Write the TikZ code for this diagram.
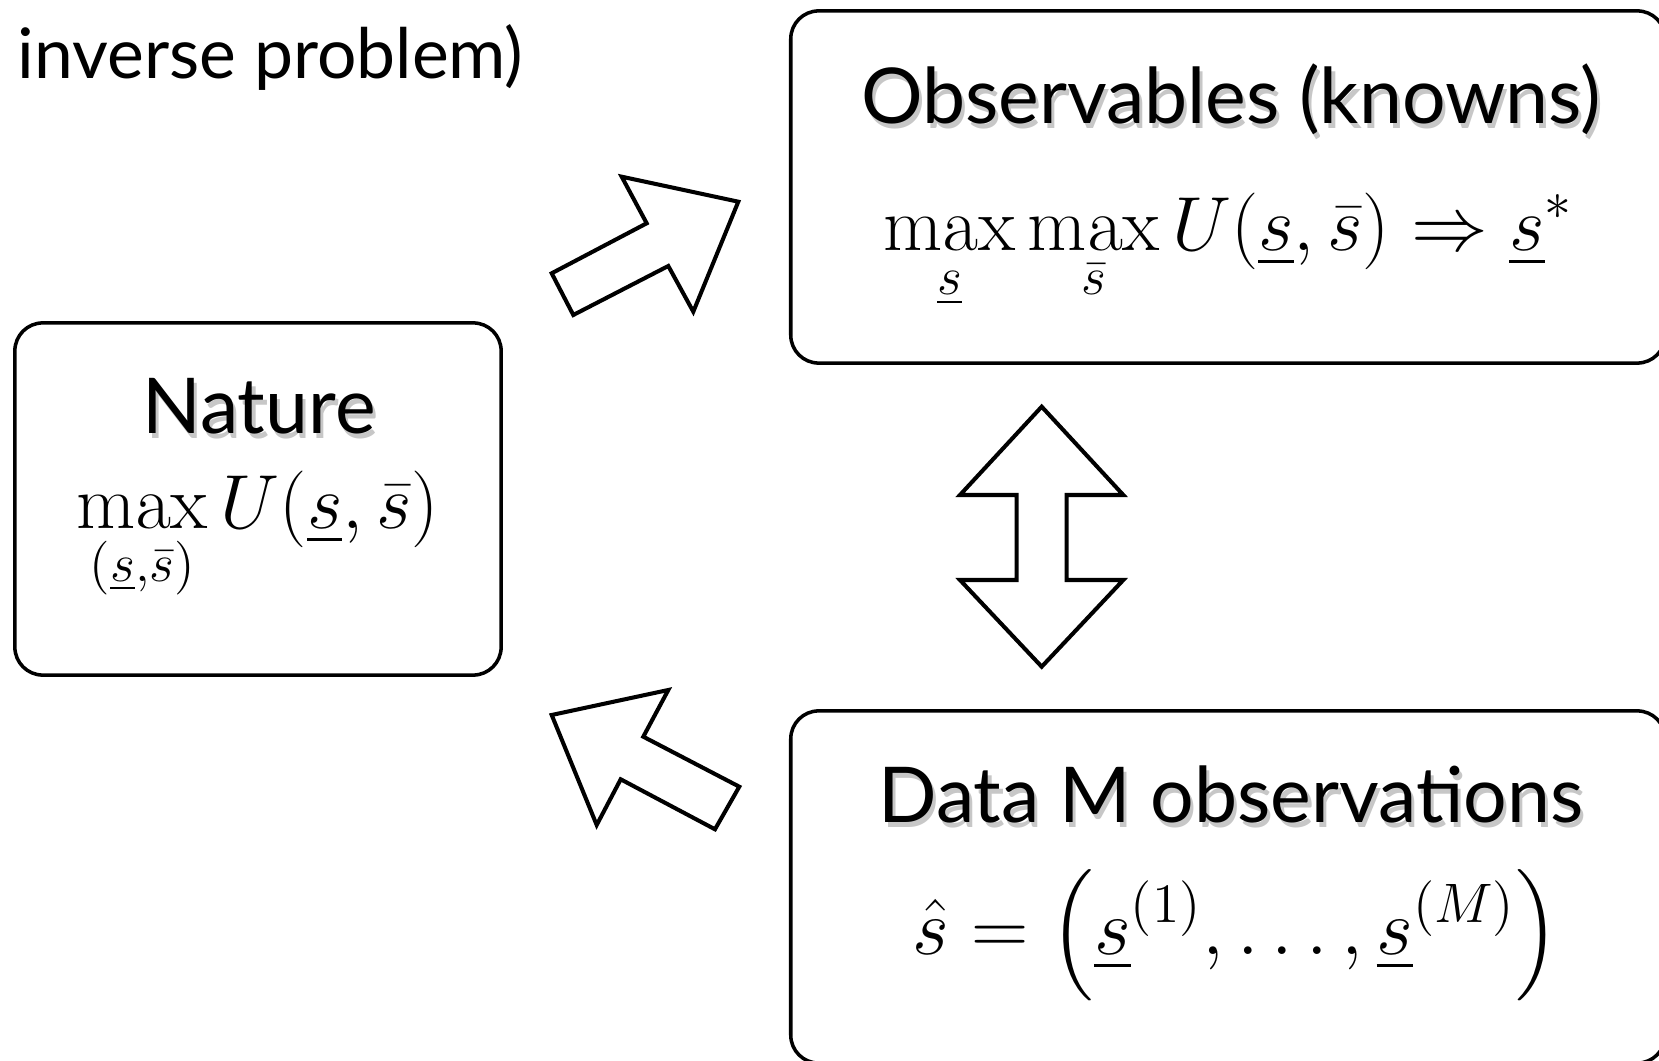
\RequirePackage{fix-cm}
\documentclass[tikz,border=0pt]{standalone}
\usepackage{amsmath}
\usepackage[no-math]{fontspec}
\newfontfamily\gill{Lato}
\usepackage{tikz}
\usetikzlibrary{positioning}

\newcommand\shtext[1]{\rlap{\kern0.9pt\raisebox{-1.3pt}{\color{black!22}#1}}#1}

\begin{document}
\begin{tikzpicture}[x=0.01cm,y=-0.01cm,
  box/.style={draw,line width=1pt,rounded corners=0.28cm,inner sep=0pt},
  title/.style={inner sep=0pt,font=\gill\fontsize{21.9}{26}\selectfont},
  formula/.style={inner sep=0pt,font=\fontsize{21.8}{26}\selectfont},
  blockarrow/.style={draw,line width=1.15pt,fill=white}]
\useasboundingbox (0,0) rectangle (1659,1061);
\clip (0,0) rectangle (1659,1061);

% boxes
\node[box,minimum width=4.86cm,minimum height=3.52cm] (nature) at (258,499) {};
\node[box,minimum width=8.74cm,minimum height=3.52cm] (obs) at (1228,187) {};
\node[box,minimum width=8.74cm,minimum height=3.52cm] (data) at (1228,887) {};

% texts
\node[inner sep=0pt,anchor=base west,font=\gill\fontsize{19.8}{23}\selectfont] (subtitle) at (17,79) {inverse problem)};
\node[title,anchor=base] (obstitle) at (1231,124) {\shtext{Observables (knowns)}};
\node[formula,anchor=base west] (obsformula) at (883,251)
  {$\displaystyle\max_{\underline{s}}\max_{\bar{s}} U\!\left(\underline{s},\bar{s}\right)\Rightarrow\underline{s}^{*}$};
\node[title,anchor=base] (naturetitle) at (259,434) {\shtext{Nature}};
\node[formula,anchor=base west] (natureformula) at (76,529)
  {$\displaystyle\max_{(\underline{s},\bar{s})} U\!\left(\underline{s},\bar{s}\right)$};
\node[title,anchor=base] (datatitle) at (1231,823) {\shtext{Data M observations}};
\node[formula,anchor=base west,font=\fontsize{22.6}{27}\selectfont] (dataformula) at (912,955)
  {$\displaystyle\hat{s}=\left(\underline{s}^{(1)},\ldots,\underline{s}^{(M)}\right)$};

% block arrows
\draw[blockarrow] (551.7,273.3) -- (573.3,315) -- (668.3,266) -- (693.3,311.7)
  -- (738.3,201.7) -- (621.7,176.7) -- (646.7,223.3) -- cycle;
\draw[blockarrow] (551.7,715) -- (668.3,690) -- (643.3,736.7) -- (739.3,786.7)
  -- (715,829.3) -- (620.7,779.3) -- (596.7,825) -- cycle;
\draw[blockarrow] (1041.7,406.7) -- (1123.3,495) -- (1066.7,495) -- (1066.7,580)
  -- (1123.3,580) -- (1041.7,666.7) -- (960,580) -- (1016.7,580)
  -- (1016.7,495) -- (960,495) -- cycle;
\end{tikzpicture}
\end{document}
